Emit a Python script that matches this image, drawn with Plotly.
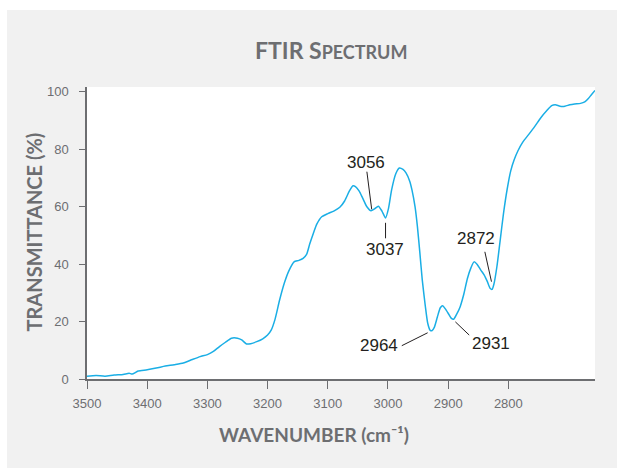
import plotly.graph_objects as go

# Spectrum data (wavenumber in cm-1, transmittance in %)
wavenumber = [3500, 3485, 3470, 3455, 3440, 3430, 3425, 3415, 3400, 3385, 3370, 3355, 3340,
              3325, 3312, 3300, 3290, 3280, 3270, 3260, 3250, 3243, 3235, 3228, 3218, 3208,
              3200, 3194, 3188, 3180, 3172, 3165, 3156, 3148, 3141, 3135, 3130, 3124, 3118,
              3110, 3100, 3090, 3080, 3072, 3064, 3058, 3054, 3048, 3042, 3035, 3028, 3022,
              3016, 3010, 3004, 2999, 2994, 2987, 2981, 2975, 2970, 2964, 2960, 2955, 2951,
              2947, 2943, 2938, 2934, 2930, 2927, 2923, 2918, 2913, 2909, 2905, 2900, 2895,
              2891, 2886, 2880, 2874, 2868, 2862, 2857, 2852, 2846, 2840, 2835, 2830, 2827,
              2824, 2819, 2814, 2808, 2802, 2796, 2790, 2784, 2776, 2766, 2756, 2746, 2736,
              2728, 2722, 2714, 2706, 2698, 2690, 2680, 2673, 2667, 2662, 2656]
transmittance = [1.0, 1.2, 1.0, 1.4, 1.6, 2.0, 1.7, 2.8, 3.2, 3.8, 4.5, 5.0, 5.6,
                 6.8, 7.8, 8.5, 9.6, 11.3, 12.8, 14.2, 14.2, 13.6, 12.2, 12.3, 13.0, 14.0,
                 15.3, 17.0, 20.5, 27.5, 33.5, 37.5, 40.8, 41.3, 42.0, 43.5, 47.0, 50.7, 54.0,
                 56.5, 57.6, 58.5, 59.8, 62.0, 65.5, 67.3, 67.0, 65.5, 63.0, 60.0, 58.6, 59.3,
                 60.2, 58.5, 56.1, 59.5, 65.8, 71.5, 73.5, 73.0, 71.8, 69.0, 65.8, 60.0, 53.0,
                 44.0, 34.5, 25.5, 19.5, 17.0, 16.8, 18.0, 21.5, 24.8, 25.5, 24.5, 22.9, 21.2,
                 20.8, 22.5, 25.2, 29.5, 35.0, 38.8, 40.8, 40.0, 38.0, 36.2, 34.0, 31.5, 31.2,
                 33.0, 39.1, 47.5, 57.7, 66.0, 72.5, 76.5, 79.5, 82.5, 85.2, 88.0, 91.0, 93.5,
                 95.2, 95.5, 95.0, 95.0, 95.5, 95.8, 96.0, 96.5, 97.7, 99.0, 100.5]

# Peak labels with their text position and leader line (data coordinates)
peak_labels = ["3056", "3037", "2964", "2931", "2872"]
label_x = [3037, 3005, 3015, 2828, 2854]
label_y = [75.5, 45.2, 11.5, 12.4, 49.1]
leader_x0 = [3035, 3004, 2977, 2888, 2839]
leader_y0 = [72.2, 54.4, 11.6, 19.9, 44.3]
leader_x1 = [3027, 3004, 2934, 2865, 2828]
leader_y1 = [59.1, 49.0, 16.1, 15.3, 33.9]

x_ticks = [3500, 3400, 3300, 3200, 3100, 3000, 2900, 2800]
y_ticks = [0, 20, 40, 60, 80, 100]

GRAY = "#6d6e71"
CURVE = "#1aaee5"

fig = go.Figure()
fig.add_trace(go.Scatter(x=wavenumber, y=transmittance, mode="lines",
                         line=dict(color=CURVE, width=1.5, shape="spline", smoothing=0.6),
                         hoverinfo="skip", showlegend=False))

L, R, T, B = 87, 22, 87, 89
W, H = 617, 468
pw, ph = W - L - R, H - T - B


def px(x):
    return (x - L) / pw


def py(y):
    return (H - B - y) / ph


shapes = []
for i in range(len(peak_labels)):
    shapes.append(dict(type="line", xref="x", yref="y",
                       x0=leader_x0[i], y0=leader_y0[i], x1=leader_x1[i], y1=leader_y1[i],
                       line=dict(color="#231f20", width=1)))
# white strips outside the gray panel
shapes.append(dict(type="rect", xref="paper", yref="paper", x0=px(0), x1=px(7),
                   y0=py(H), y1=py(0), fillcolor="white", line=dict(width=0), layer="below"))
shapes.append(dict(type="rect", xref="paper", yref="paper", x0=px(0), x1=px(W),
                   y0=py(10), y1=py(0), fillcolor="white", line=dict(width=0), layer="below"))

annotations = []
for i in range(len(peak_labels)):
    annotations.append(dict(x=label_x[i], y=label_y[i], xref="x", yref="y",
                            text=peak_labels[i], showarrow=False,
                            font=dict(family="Liberation Sans, Arial", size=17, color="#231f20")))

TITLE_FONT = "Lato, Open Sans, sans-serif"
annotations.append(dict(x=px(331), y=py(50), xref="paper", yref="paper", showarrow=False,
                        xanchor="center", yanchor="middle",
                        text="<b>FTIR S<span style='font-size:18px'>PECTRUM</span></b>",
                        font=dict(family=TITLE_FONT, size=23, color=GRAY)))
annotations.append(dict(x=px(314), y=py(434), xref="paper", yref="paper", showarrow=False,
                        xanchor="center", yanchor="middle",
                        text="<b>WAVENUMBER (cm⁻¹)</b>",
                        font=dict(family=TITLE_FONT, size=19, color=GRAY)))
annotations.append(dict(x=px(33), y=py(232.5), xref="paper", yref="paper", showarrow=False,
                        xanchor="center", yanchor="middle", textangle=-90,
                        text="<b>TRANSMITTANCE (%)</b>",
                        font=dict(family=TITLE_FONT, size=20, color=GRAY)))

fig.update_layout(
    width=W, height=H,
    margin=dict(l=L, r=R, t=T, b=B, pad=0),
    paper_bgcolor="#f1f1f1",
    plot_bgcolor="white",
    shapes=shapes,
    annotations=annotations,
    xaxis=dict(range=[3500, 2656], tickvals=x_ticks, ticktext=[str(v) for v in x_ticks],
               showgrid=False, zeroline=False, showline=True, linecolor=GRAY, linewidth=1.5,
               ticks="outside", ticklen=8, tickwidth=1, tickcolor=GRAY,
               tickfont=dict(family="Liberation Sans, Arial", size=13, color=GRAY),
               ticklabelstandoff=4),
    yaxis=dict(range=[0, 101.7], tickvals=y_ticks, ticktext=[str(v) for v in y_ticks],
               showgrid=False, zeroline=False, showline=True, linecolor=GRAY, linewidth=1.5,
               ticks="outside", ticklen=6, tickwidth=1, tickcolor=GRAY,
               tickfont=dict(family="Liberation Sans, Arial", size=13, color=GRAY),
               ticklabelstandoff=8),
)

fig.write_html("out.html")
